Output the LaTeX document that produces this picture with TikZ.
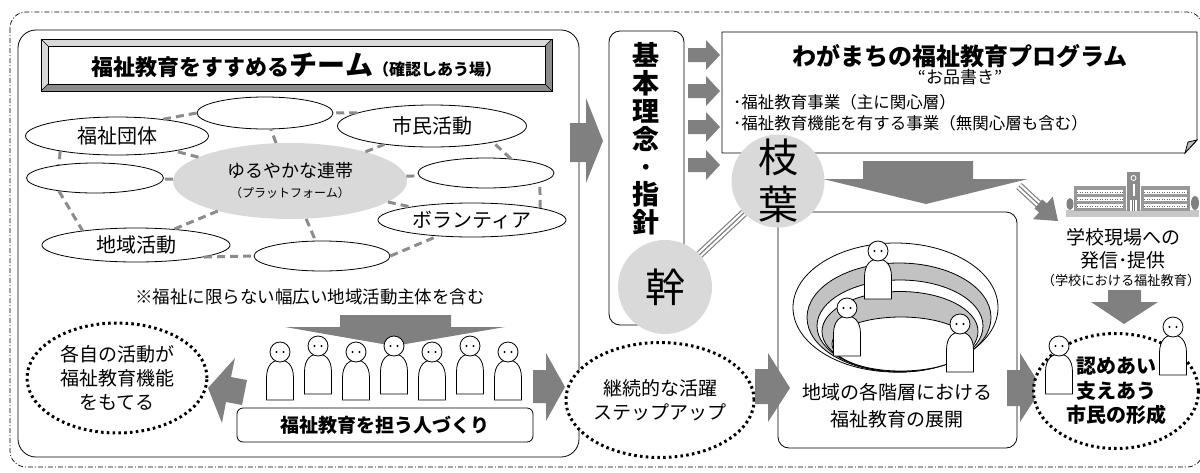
\documentclass[tikz,border=0pt]{standalone}
\usepackage{fontspec}
\setmainfont{Noto Sans CJK JP}
\usetikzlibrary{shapes.geometric, positioning, backgrounds}

\definecolor{arrowgray}{gray}{0.5}
\definecolor{platgray}{gray}{0.85}
\definecolor{ringgray}{gray}{0.76}
\definecolor{linkgray}{gray}{0.55}

\begin{document}
\begin{tikzpicture}[
    x=1pt, y=-1pt,
    every node/.style={inner sep=0pt},
    oval/.style={ellipse, draw, fill=white, line width=0.8pt, font=\fontsize{20}{22}\selectfont},
    link/.style={draw=linkgray, line width=3pt, dash pattern=on 8pt off 5pt},
    dotoval/.style={ellipse, draw, fill=white, line width=3pt, dash pattern=on 2.6pt off 3.2pt, align=center},
    panel/.style={draw, line width=0.8pt, rounded corners=#1},
    blk/.style={fill=arrowgray},
    bubble/.style={circle, fill=platgray, align=center},
    stalk/.style={draw=black!50, line width=1.2pt, double=white, double distance=5.6pt},
    person/.pic={
        \draw[fill=white, line width=0.8pt] (-13.5,48) -- (-13.5,26)
            .. controls (-13.5,13) and (-7,8) .. (0,8)
            .. controls (7,8) and (13.5,13) .. (13.5,26) -- (13.5,48) -- cycle;
        \draw[fill=white, line width=0.8pt] (0,0) circle[radius=10pt];
        \fill (-3.5,0) circle[radius=1.2pt] (3.5,0) circle[radius=1.2pt];
    },
]
\useasboundingbox (0,0) rectangle (1200,472);

% outer frame
\draw[line width=0.7pt, dash pattern=on 5pt off 2pt on 1pt off 2pt, rounded corners=16pt] (10,12) rectangle (1203,467);

%% ---------------- left panel: team ----------------
\node[panel=18pt, minimum width=561pt, minimum height=427pt] (teampanel) at (298.5,243.5) {};

% bevelled title plate
\fill[black!15] (41,39) rectangle (552,91);
\fill[black!45] (552,39) -- (552,91) -- (41,91) -- (48,84) -- (545,84) -- (545,46) -- cycle;
\draw[line width=0.7pt] (41,39) rectangle (552,91);
\draw[line width=0.5pt] (41,39) -- (48,46) (552,39) -- (545,46) (41,91) -- (48,84) (552,91) -- (545,84);
\node[draw, fill=white, line width=0.8pt, minimum width=497pt, minimum height=38pt] (team) at (296.5,65)
    {{\fontsize{22}{26}\selectfont\bfseries 福祉教育をすすめる}{\fontsize{28}{30}\selectfont\bfseries チーム}{\fontsize{16}{20}\selectfont\bfseries （確認しあう場）}};

% members around the platform
\node[ellipse, fill=platgray, minimum width=234pt, minimum height=76pt, align=center,
      font=\fontsize{18}{20}\selectfont] (platform) at (290,181)
    {ゆるやかな連帯\\{\fontsize{12}{14}\selectfont （プラットフォーム）}};
\node[oval, minimum width=136pt, minimum height=32pt] (blank1) at (265,113) {};
\node[oval, minimum width=183pt, minimum height=38pt] (dantai) at (117,136) {福祉団体};
\node[oval, minimum width=137pt, minimum height=30pt] (blank2) at (95,178) {};
\node[oval, minimum width=188pt, minimum height=34pt] (chiiki) at (136,245) {地域活動};
\node[oval, minimum width=136pt, minimum height=30pt] (blank3) at (322,256) {};
\node[oval, minimum width=188pt, minimum height=34pt] (volunteer) at (472,220) {ボランティア};
\node[oval, minimum width=136pt, minimum height=30pt] (blank4) at (486,173) {};
\node[oval, minimum width=189pt, minimum height=42pt] (shimin) at (432,126) {市民活動};

% loose ring + spokes
\draw[link] (blank1.west) -- (dantai.20);
\draw[link] (dantai.195) -- (blank2.160);
\draw[link] (blank2.200) -- (chiiki.165);
\draw[link] (chiiki.350) -- (blank3.west);
\draw[link] (blank3.east) -- (volunteer.205);
\draw[link] (volunteer.10) -- (blank4.350);
\draw[link] (blank4.30) -- (shimin.345);
\draw[link] (shimin.170) -- (blank1.east);
\foreach \n in {blank1,dantai,blank2,chiiki,blank3,volunteer,blank4,shimin}
    \draw[link] (platform) -- (\n);

\node[font=\fontsize{17.5}{20}\selectfont] (note) at (310,297) {※福祉に限らない幅広い地域活動主体を含む};

% people being trained
\fill[blk] (340,315) -- (451,315) -- (451,327) -- (505,327) -- (394,346) -- (285,327) -- (340,327) -- cycle;
\foreach \px/\py in {280/352, 318/346, 356/352, 394/346, 432/352, 470/346, 508/352}
    \pic at (\px,\py) {person};
\node[panel=6pt, minimum width=296pt, minimum height=34pt, font=\fontsize{19}{22}\selectfont\bfseries] (jinzai) at (385,425) {福祉教育を担う人づくり};

\node[dotoval, minimum width=180pt, minimum height=110pt, font=\fontsize{19}{24}\selectfont] (kakuji) at (117,378)
    {各自の活動が\\福祉教育機能\\をもてる};
\fill[blk] (208,388) -- (235,358) -- (231,377) -- (247,380) -- (242,405) -- (226,402) -- (222,423) -- cycle;
\fill[blk] (533,370) -- (546,370) -- (546,353) -- (565,387) -- (546,421) -- (546,403) -- (533,403) -- cycle;

%% ---------------- middle: principles ----------------
\fill[blk] (570,123) -- (586,123) -- (586,98) -- (603,141) -- (586,183) -- (586,162) -- (570,162) -- cycle;
\node[panel=11pt, minimum width=75pt, minimum height=294pt] (kihon) at (646.5,178) {};
\node[align=center, font=\fontsize{27}{27.8}\selectfont\bfseries] (kihontext) at (646,139) {基\\本\\理\\念\\･\\指\\針};
\foreach \ay in {55,91,127,165}
    \fill[blk] (688,\ay-7) -- (706,\ay-7) -- (706,\ay-15) -- (720,\ay) -- (706,\ay+15) -- (706,\ay+7) -- (688,\ay+7) -- cycle;

% program sheet with folded corner
\draw[line width=0.8pt, fill=white] (722,32) -- (1197,32) -- (1197,140) -- (1185,153) -- (722,153) -- cycle;
\filldraw[fill=black!25, line width=0.8pt] (1197,140) -- (1185,153) -- (1188,142) -- cycle;
\node[font=\fontsize{24}{26}\selectfont\bfseries] (program) at (960,56) {わがまちの福祉教育プログラム};
\node[font=\fontsize{17}{19}\selectfont] (menu) at (960,77) {“お品書き”};
\node[anchor=west, font=\fontsize{16.5}{19}\selectfont] (item1) at (733,102) {･福祉教育事業（主に関心層）};
\node[anchor=west, font=\fontsize{16.5}{19}\selectfont] (item2) at (733,123) {･福祉教育機能を有する事業（無関心層も含む）};

%% ---------------- right: practice in the community ----------------
\node[panel=11pt, minimum width=239pt, minimum height=236pt] (tenkai) at (897.5,330) {};
\draw[line width=0.8pt, fill=white] (895.5,307.5) ellipse[x radius=102.5pt, y radius=64.5pt];
\draw[line width=0.8pt, fill=ringgray] (899,317.5) ellipse[x radius=92pt, y radius=54.5pt];
\draw[line width=0.8pt, fill=white] (900,326) ellipse[x radius=83pt, y radius=46pt];
\draw[line width=0.8pt, fill=ringgray] (900,331.5) ellipse[x radius=78pt, y radius=40pt];
\draw[line width=0.8pt, fill=white] (901,344) ellipse[x radius=69pt, y radius=27pt];
\pic at (878,251) {person};
\pic at (847,308) {person};
\pic at (960,324) {person};
\node[align=center, font=\fontsize{19}{27}\selectfont] (tenkaitext) at (897,405.5) {地域の各階層における\\福祉教育の展開};

% trunk and leaves
\node[bubble, minimum size=94pt, font=\fontsize{40}{47}\selectfont] (miki) at (665,287) {幹};
\node[bubble, minimum size=93pt, font=\fontsize{40}{47}\selectfont] (edaha) at (778,181) {枝\\葉};
\begin{scope}[on background layer]
    \draw[stalk] (miki) -- (edaha);
    \draw[draw=black!50, line width=1.2pt] (miki) -- (edaha);
\end{scope}

\fill[blk] (863,161) -- (973,161) -- (973,179) -- (1028,179) -- (926,204) -- (823,179) -- (863,179) -- cycle;

% step-up loop
\node[dotoval, minimum width=185pt, minimum height=115pt, font=\fontsize{19}{23.5}\selectfont] (keizoku) at (660,400)
    {継続的な活躍\\ステップアップ};
\fill[blk] (755,369) -- (768,369) -- (768,353) -- (790,388) -- (768,422) -- (768,404) -- (755,404) -- cycle;
\fill[blk] (1007,370) -- (1020,370) -- (1020,353) -- (1042,388) -- (1020,422) -- (1020,406) -- (1007,406) -- cycle;

% school building
\fill[black!22] (1066,210) rectangle (1199,217);
\fill[black!40] (1074,186) rectangle (1126,211);
\fill[black!40] (1141,186) rectangle (1190,211);
\foreach \wy in {190,197,204} {
    \fill[white] (1077,\wy) rectangle (1123,\wy+4);
    \fill[white] (1144,\wy) rectangle (1187,\wy+4);
    \draw[black!60, line width=0.6pt, dash pattern=on 1.2pt off 1.3pt] (1077,\wy+2) -- (1123,\wy+2) (1144,\wy+2) -- (1187,\wy+2);
}
\fill[black!45] (1127,172) rectangle (1140,211);
\fill[white] (1130,200) rectangle (1137,211);
\draw[black!55, line width=0.5pt] (1132,200) -- (1132,211) (1134.5,200) -- (1134.5,211);
\draw[white, line width=0.8pt] (1133.5,178) circle[radius=2.5pt];
\fill[white] (1132.5,184) rectangle (1134.5,196);
\fill[black!50] (1070,204) ellipse[x radius=3.5pt, y radius=6pt];
\fill[black!50] (1195,203) ellipse[x radius=4pt, y radius=7pt];

\draw[stalk] (1019,186) -- (1038.4,204);
\draw[draw=black!50, line width=1.2pt] (1019,186) -- (1038.4,204);
\fill[blk] (1034.5,208.5) -- (1039,212.4) -- (1033.1,219.2) -- (1058,221) -- (1052.7,196.6) -- (1046.8,203.4) -- (1042.3,199.5) -- cycle;

\node[align=center, font=\fontsize{19}{23}\selectfont] (gakko) at (1123,248.5) {学校現場への\\発信･提供};
\node[font=\fontsize{13.2}{16}\selectfont] (gakkonote) at (1121,280) {（学校における福祉教育）};
\fill[blk] (1108,290) -- (1141,290) -- (1141,302) -- (1158,302) -- (1124,324) -- (1091,302) -- (1108,302) -- cycle;

% citizens supporting each other
\node[dotoval, minimum width=165pt, minimum height=115pt, font=\fontsize{20}{24.5}\selectfont\bfseries] (mitome) at (1116,391)
    {認めあい\\支えあう\\市民の形成};
\pic at (1059,346) {person};
\pic at (1173,327) {person};

\end{tikzpicture}
\end{document}
